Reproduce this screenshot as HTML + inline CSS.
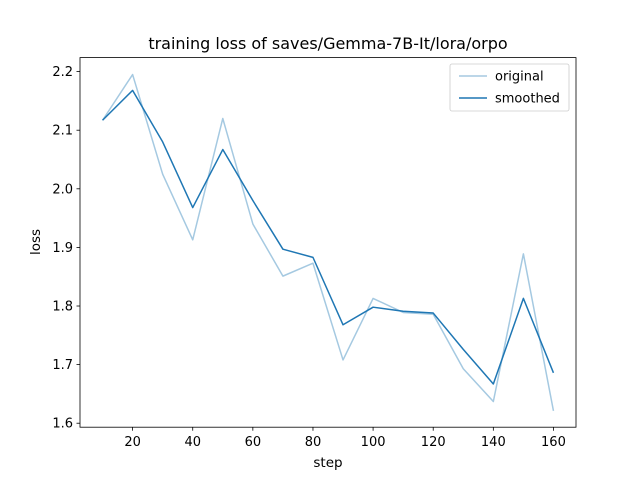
<!DOCTYPE html>
<html><head><meta charset="utf-8"><style>body{margin:0;background:#fff}svg{font-family:"DejaVu Sans","Liberation Sans",sans-serif}</style></head>
<body>
<svg id="chart" width="640" height="480" viewBox="0 0 640 480">
<rect width="640" height="480" fill="#fff"/>
<text x="328" y="49" font-size="16" text-anchor="middle">training loss of saves/Gemma-7B-It/lora/orpo</text>
<g id="plot"></g>
<rect x="80" y="57.6" width="496" height="369.6" fill="none" stroke="#000" stroke-width="0.8"/>
<text x="328" y="467" font-size="13.5" text-anchor="middle">step</text>
<text transform="translate(40,242) rotate(-90)" font-size="13.5" text-anchor="middle">loss</text>
<g>
<rect x="450" y="64" width="119" height="47" rx="2" fill="#fff" fill-opacity="0.8" stroke="#ccc" stroke-width="0.8"/>
<line x1="459" y1="76" x2="487" y2="76" stroke="#1f77b4" stroke-opacity="0.4" stroke-width="1.5"/>
<text x="495" y="80.5" font-size="13">original</text>
<line x1="459" y1="98" x2="487" y2="98" stroke="#1f77b4" stroke-width="1.5"/>
<text x="495" y="102.5" font-size="13">smoothed</text>
</g>
</svg>
<script>
const steps=[10,20,30,40,50,60,70,80,90,100,110,120,130,140,150,160];
const original=[2.117,2.195,2.025,1.913,2.12,1.94,1.851,1.873,1.708,1.813,1.789,1.786,1.693,1.637,1.889,1.621];
const smoothed=[2.117,2.168,2.08,1.968,2.067,1.98,1.897,1.883,1.768,1.798,1.791,1.788,1.726,1.667,1.813,1.686];
const xTicks=[20,40,60,80,100,120,140,160];
const yTicks=[1.6,1.7,1.8,1.9,2.0,2.1,2.2];
const NS="http://www.w3.org/2000/svg";
const L=80,R=576,T=57.6,B=427.2;
const xmin=2.5,xmax=167.5,ymin=1.5932,ymax=2.2239;
const sx=v=>L+(v-xmin)/(xmax-xmin)*(R-L);
const sy=v=>B-(v-ymin)/(ymax-ymin)*(B-T);
const g=document.getElementById('plot');
function mk(t,a){const e=document.createElementNS(NS,t);for(const k in a)e.setAttribute(k,a[k]);g.appendChild(e);return e;}
xTicks.forEach(v=>{
 const l=mk('line',{x1:sx(v),x2:sx(v),y1:B,y2:B+3.5,stroke:'#000','stroke-width':0.8});
 
 
 const t=mk('text',{x:sx(v),y:B+19,'font-size':13,'text-anchor':'middle'});t.textContent=v;
 
 
});
yTicks.forEach(v=>{
 const l=mk('line',{x1:L-3.5,x2:L,y1:sy(v),y2:sy(v),stroke:'#000','stroke-width':0.8});
 
 
 const t=mk('text',{x:L-7,y:sy(v)+4.5,'font-size':13,'text-anchor':'end'});t.textContent=v.toFixed(1);
 
 
});
function line(vals,op,name){
 const p=mk('polyline',{points:steps.map((s,i)=>sx(s)+','+sy(vals[i])).join(' '),fill:'none',stroke:'#1f77b4','stroke-opacity':op,'stroke-width':1.5,'stroke-linejoin':'round'});
 
 
}
line(original,0.4,'original-line');
line(smoothed,1,'smoothed-line');
</script>
</body></html>
